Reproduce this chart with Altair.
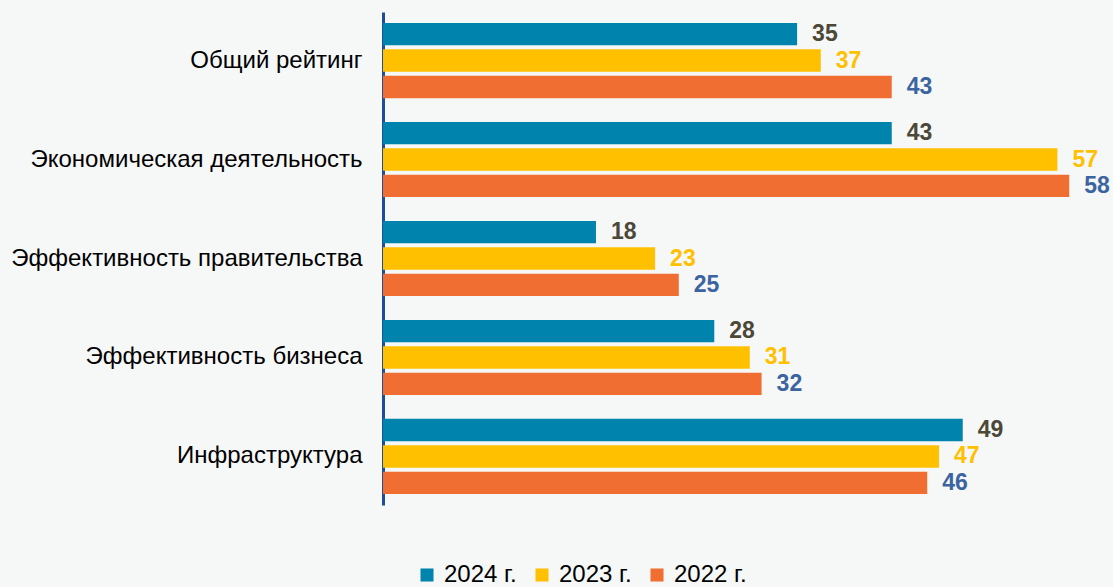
import altair as alt
import pandas as pd

categories = ["Общий рейтинг", "Экономическая деятельность", "Эффективность правительства",
              "Эффективность бизнеса", "Инфраструктура"]
years = ["2024 г.", "2023 г.", "2022 г."]
v2024 = [35, 43, 18, 28, 49]
v2023 = [37, 57, 23, 31, 47]
v2022 = [43, 58, 25, 32, 46]
bar_colors = ["#0083AC", "#FFC000", "#F06E32"]
label_colors = ["#4B4837", "#FFC000", "#3B64A0"]

rows = []
for i, c in enumerate(categories):
    for y, vals, lc in zip(years, [v2024, v2023, v2022], label_colors):
        rows.append({"cat": c, "year": y, "value": vals[i], "lc": lc})
df = pd.DataFrame(rows)

yenc = alt.Y("cat:N", sort=categories, title=None,
             scale=alt.Scale(paddingInner=0.24, paddingOuter=0.11),
             axis=alt.Axis(labelFontSize=24, labelColor="#000000", labelFont="Liberation Sans",
                           ticks=False, labelPadding=21, domainColor="#1F4E99", domainWidth=3,
                           labelLimit=400))
yoff = alt.YOffset("year:N", sort=years, scale=alt.Scale(paddingInner=0.15))
xenc = alt.X("value:Q", scale=alt.Scale(domain=[0, 61.7], nice=False), axis=None, title=None)

bars = alt.Chart(df).mark_bar().encode(
    x=xenc, y=yenc, yOffset=yoff,
    color=alt.Color("year:N", sort=years,
                    scale=alt.Scale(domain=years, range=bar_colors),
                    legend=alt.Legend(title=None, orient="none", direction="horizontal",
                                      legendX=32, legendY=551, symbolType="square",
                                      symbolSize=170, symbolStrokeWidth=0, labelFontSize=24,
                                      labelFont="Liberation Sans", labelColor="#000000",
                                      labelOffset=5, columnPadding=13, padding=0)),
)

labels = alt.Chart(df).mark_text(align="left", baseline="middle", dx=15, fontSize=23,
                                 fontWeight="bold", font="Liberation Sans").encode(
    x=xenc, y=yenc, yOffset=yoff,
    text=alt.Text("value:Q"),
    color=alt.Color("lc:N", scale=None),
)

chart = alt.layer(bars, labels).properties(
    width=730, height=493,
    background="#F6F7F7",
    padding={"left": 383, "top": 12, "right": 0, "bottom": 82},
    autosize=alt.AutoSizeParams(type="none"),
).configure_view(stroke=None)

chart.save("out.html", embed_options={"renderer": "svg", "actions": False})
